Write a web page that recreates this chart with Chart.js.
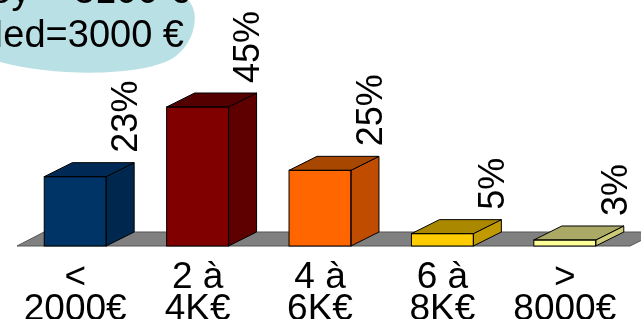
<!DOCTYPE html>
<html>
<head>
<meta charset="utf-8">
<script src="https://cdn.jsdelivr.net/npm/chart.js@4.4.1/dist/chart.umd.min.js"></script>
<style>
  html, body { margin: 0; padding: 0; background: #ffffff; }
  #chartBox { width: 641px; height: 319px; }
</style>
</head>
<body>
<div id="chartBox"><canvas id="incomeChart" width="641" height="319"></canvas></div>
<script>
// income brackets and share of respondents (%)
const categories = [['<', '2000€'], ['2 à', '4K€'], ['4 à', '6K€'], ['6 à', '8K€'], ['>', '8000€']];
const shares = [23, 45, 25, 5, 3];
const frontColors = ['#003366', '#800000', '#ff6600', '#ffcc00', '#ffff99'];
const sideColors = ['#00284f', '#5e0000', '#c04c00', '#c09a00', '#cccc77'];
const topColors = ['#002a55', '#550000', '#a84800', '#aa8800', '#aaaa66'];
const summaryLines = ['Moy = 3100 €', 'Med=3000 €'];

const FONT = '"Liberation Sans", Arial, sans-serif';
const depthX = 28, depthY = -14;

const bars3d = {
    id: 'bars3d',
    beforeDatasetsDraw(chart) {
        // grey floor under the bars
        const ctx = chart.ctx;
        const area = chart.chartArea;
        const l = area.left + 3, r = area.right + 4, b = area.bottom;
        ctx.save();
        ctx.beginPath();
        ctx.moveTo(l, b);
        ctx.lineTo(l + depthX - 1, b + depthY);
        ctx.lineTo(r + depthX, b + depthY);
        ctx.lineTo(r, b);
        ctx.closePath();
        ctx.fillStyle = '#808080';
        ctx.fill();
        ctx.strokeStyle = '#555555';
        ctx.lineWidth = 1;
        ctx.stroke();
        ctx.restore();
    },
    afterDatasetsDraw(chart) {
        const ctx = chart.ctx;
        const bottom = chart.chartArea.bottom;
        const meta = chart.getDatasetMeta(0);
        ctx.save();
        ctx.lineWidth = 1;
        ctx.strokeStyle = '#000000';
        meta.data.forEach(function(bar, i) {
            const p = bar.getProps(['x', 'y', 'width'], true);
            const left = p.x - p.width / 2;
            const right = p.x + p.width / 2;
            const top = p.y;

            // side face
            ctx.beginPath();
            ctx.moveTo(right, top);
            ctx.lineTo(right + depthX, top + depthY);
            ctx.lineTo(right + depthX, bottom + depthY);
            ctx.lineTo(right, bottom);
            ctx.closePath();
            ctx.fillStyle = sideColors[i];
            ctx.fill();
            ctx.stroke();

            // top face
            ctx.beginPath();
            ctx.moveTo(left, top);
            ctx.lineTo(left + depthX, top + depthY);
            ctx.lineTo(right + depthX, top + depthY);
            ctx.lineTo(right, top);
            ctx.closePath();
            ctx.fillStyle = topColors[i];
            ctx.fill();
            ctx.stroke();

            // front outline
            ctx.strokeRect(left, top, p.width, bottom - top);

            // rotated value label
            ctx.save();
            ctx.translate(right + 21, top + depthY - 10);
            ctx.rotate(-Math.PI / 2);
            ctx.font = '36px ' + FONT;
            ctx.fillStyle = '#000000';
            ctx.textAlign = 'left';
            ctx.textBaseline = 'middle';
            ctx.fillText(chart.data.datasets[0].data[i] + '%', 0, 0);
            ctx.restore();
        });
        ctx.restore();
    },
    afterDraw(chart) {
        // light blue bubble with mean / median
        const ctx = chart.ctx;
        ctx.save();
        ctx.beginPath();
        ctx.moveTo(0, 0);
        ctx.lineTo(188, 0);
        ctx.bezierCurveTo(200, 12, 196, 40, 176, 56);
        ctx.bezierCurveTo(150, 76, 60, 78, 0, 62);
        ctx.closePath();
        ctx.fillStyle = '#b9e0e4';
        ctx.fill();
        ctx.font = '38px ' + FONT;
        ctx.fillStyle = '#000000';
        ctx.textAlign = 'right';
        ctx.textBaseline = 'alphabetic';
        ctx.fillText(summaryLines[0], 190, 3);
        ctx.fillText(summaryLines[1], 184, 47);
        ctx.restore();
    }
};

const ctxIncome = document.getElementById('incomeChart').getContext('2d');
new Chart(ctxIncome, {
    type: 'bar',
    data: {
        labels: categories,
        datasets: [{
            data: shares,
            backgroundColor: frontColors,
            borderColor: '#000000',
            borderWidth: 0,
            categoryPercentage: 1,
            barPercentage: 0.506
        }]
    },
    options: {
        responsive: false,
        animation: false,
        layout: { padding: { left: 14, right: 15, top: 0, bottom: 0 } },
        plugins: {
            legend: { display: false },
            tooltip: { enabled: false }
        },
        scales: {
            x: {
                grid: { display: false },
                border: { display: false },
                ticks: {
                    color: '#000000',
                    maxRotation: 0,
                    autoSkip: false,
                    padding: 8,
                    font: { family: FONT, size: 37, lineHeight: 0.86 }
                },
                afterFit: function(scale) { scale.height = 73; }
            },
            y: {
                display: false,
                min: 1.1,
                max: 78.8
            }
        }
    },
    plugins: [bars3d]
});
</script>
</body>
</html>
